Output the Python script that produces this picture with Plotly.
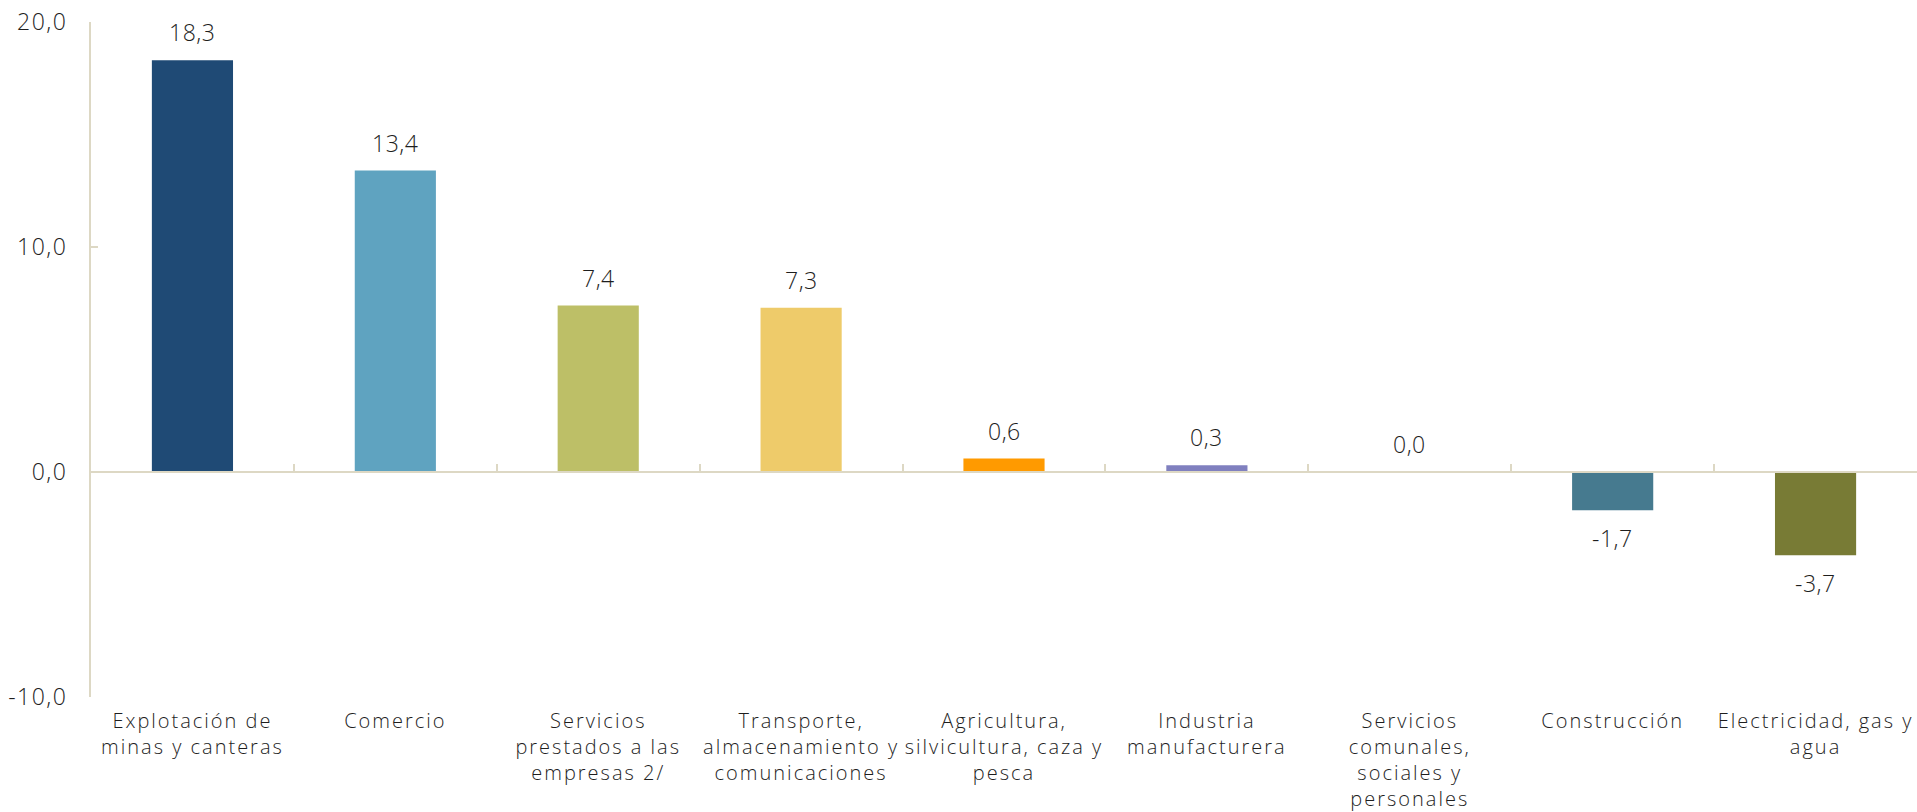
import plotly.graph_objects as go

categories = [
    "Explotación de<br>minas y canteras",
    "Comercio",
    "Servicios<br>prestados a las<br>empresas 2/",
    "Transporte,<br>almacenamiento y<br>comunicaciones",
    "Agricultura,<br>silvicultura, caza y<br>pesca",
    "Industria<br>manufacturera",
    "Servicios<br>comunales,<br>sociales y<br>personales",
    "Construcción",
    "Electricidad, gas y<br>agua",
]
values = [18.3, 13.4, 7.4, 7.3, 0.6, 0.3, 0.02, -1.7, -3.7]
labels = ["18,3", "13,4", "7,4", "7,3", "0,6", "0,3", "0,0", "-1,7", "-3,7"]
colors = ["#1F4A75", "#5FA3C0", "#BDBF67", "#EECB6A", "#FF9A00",
          "#8080BF", "#A6A6A6", "#467A8F", "#787B35"]
y_ticks = [-10, 0, 10, 20]
y_tick_text = ["-10,0", "0,0", "10,0", "20,0"]
y_range = [-10, 20]

AXIS_COLOR = "#DDD8C4"
TEXT_COLOR = "#1E1E1E"
FONT = "'Open Sans', Lato, sans-serif"


def spaced(text, px):
    return "<br>".join(
        f'<span style="letter-spacing:{px}px">{line}</span>'
        for line in text.split("<br>")
    )


fig = go.Figure()
fig.add_trace(go.Bar(
    x=categories, y=values, marker_color=colors, marker_line_width=0,
    hoverinfo="skip", showlegend=False,
))
# invisible trace carrying the axis line drawn at zero
fig.add_trace(go.Scatter(
    x=categories, y=values, mode="markers", marker=dict(opacity=0),
    xaxis="x2", hoverinfo="skip", showlegend=False,
))

for c, v, t in zip(categories, values, labels):
    pos = v >= 0
    fig.add_annotation(
        x=c, y=v, text=spaced(t, 0.5), showarrow=False,
        yanchor="bottom" if pos else "top",
        yshift=10 if pos else -10,
        font=dict(family=FONT, size=23, color=TEXT_COLOR, weight=300),
    )

zero_pos = (0 - y_range[0]) / (y_range[1] - y_range[0])

fig.update_layout(
    width=1917, height=812,
    margin=dict(l=91, r=0, t=22, b=115),
    paper_bgcolor="white", plot_bgcolor="white",
    bargap=0.6,
    separators=",.",
    font=dict(family=FONT, color=TEXT_COLOR, weight=300),
    xaxis=dict(
        type="category", categoryorder="array", categoryarray=categories,
        tickvals=categories, ticktext=[spaced(c, 2) for c in categories],
        showline=False, ticks="", showgrid=False, automargin=False,
        tickfont=dict(family=FONT, size=20, color=TEXT_COLOR, weight=300),
        ticklabelstandoff=10,
    ),
    xaxis2=dict(
        type="category", overlaying="x", matches="x", anchor="free",
        position=zero_pos, side="bottom", automargin=False,
        showline=True, linecolor=AXIS_COLOR, linewidth=2,
        ticks="inside", tickson="boundaries", ticklen=7,
        tickcolor=AXIS_COLOR, tickwidth=2,
        showticklabels=False, showgrid=False,
    ),
    yaxis=dict(
        range=y_range, tickvals=y_ticks, automargin=False,
        ticktext=[spaced(t, 1.5) for t in y_tick_text],
        showline=True, linecolor=AXIS_COLOR, linewidth=2,
        ticks="inside", ticklen=7, tickcolor=AXIS_COLOR, tickwidth=2,
        showgrid=False, zeroline=False,
        tickfont=dict(family=FONT, size=23, color=TEXT_COLOR, weight=300),
        ticklabelstandoff=17,
    ),
)

fig.write_html(
    "out.html",
    config={"displayModeBar": False},
    post_script="document.body.style.margin='0';document.body.style.overflow='hidden';",
)
